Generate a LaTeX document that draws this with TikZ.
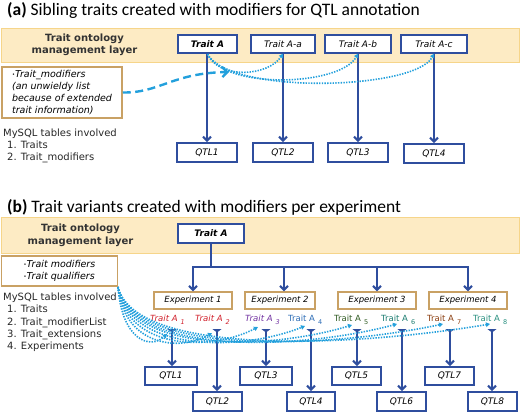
\documentclass[tikz,border=0pt]{standalone}
\usepackage{fontspec}
\setmainfont{DejaVu Sans}
\newfontfamily\titlefont{Carlito}
\usetikzlibrary{arrows.meta}
\definecolor{dblue}{HTML}{2F4E9E}
\definecolor{lblue}{HTML}{23A0DC}
\definecolor{bandfill}{HTML}{FDEBC4}
\definecolor{bandline}{HTML}{F6D58A}
\definecolor{tanline}{HTML}{C9A164}
\definecolor{cA}{HTML}{D01F2A}
\definecolor{cB}{HTML}{7030A0}
\definecolor{cC}{HTML}{2E6DB6}
\definecolor{cD}{HTML}{2F5A22}
\definecolor{cE}{HTML}{1B7C70}
\definecolor{cF}{HTML}{8B3F12}
\definecolor{cG}{HTML}{2A9080}
\newcommand{\fsz}[2]{\fontsize{#1}{#2}\selectfont}
\newcommand{\tsub}[1]{\hspace{3pt}\raisebox{-2.5pt}{\fsz{6.5}{7}#1}}
\begin{document}
\begin{tikzpicture}[x=1pt,y=-1pt,
  band/.style={draw=bandline, fill=bandfill, line width=1pt, inner sep=0pt},
  layertxt/.style={font=\bfseries\fsz{10}{12.5}, align=center, text=black!80},
  tbox/.style={draw=dblue, line width=1.5pt, fill=white, inner sep=0pt, minimum height=18pt, font=\itshape\fsz{9}{11}},
  tmain/.style={tbox, line width=2.2pt, font=\bfseries\itshape\fsz{9}{11}},
  qbox/.style={draw=dblue, line width=2pt, fill=white, inner sep=0pt, minimum height=19pt, font=\itshape\fsz{9}{11}},
  ebox/.style={draw=tanline, line width=1.5pt, fill=white, inner sep=0pt, minimum height=17pt, font=\itshape\fsz{8.5}{10}},
  modbox/.style={draw=tanline, line width=1.5pt, fill=white, inner sep=0pt, align=left, font=\itshape\fsz{9.5}{11.7}},
  plain/.style={inner sep=0pt, align=left, anchor=north west, font=\fsz{10}{12.2}, text=black!85},
  varrow/.style={draw=dblue, line width=2pt, -{Straight Barb[length=4pt,width=8pt]}},
  varrowb/.style={draw=dblue, line width=2pt, {Triangle[reversed,length=3.5pt,width=9pt]}-{Straight Barb[length=4pt,width=8pt]}},
  treeline/.style={draw=dblue, line width=2pt},
  dotarrow/.style={draw=lblue, line width=1.6pt, dash pattern=on 1.4pt off 1.3pt, -{Triangle[length=4pt,width=4.5pt]}},
  dasharrow/.style={draw=lblue, line width=2.4pt, dash pattern=on 8pt off 4.5pt, -{Straight Barb[length=5pt,width=10pt]}},
  tlab/.style={inner sep=0pt, anchor=west, font=\fsz{8.5}{10}}
]
\useasboundingbox (0,0) rectangle (520,413);

% ---------------- (a) ----------------
\node[anchor=west, inner sep=0pt, font=\titlefont\fsz{17.5}{20}] (ta) at (7,11) {\textbf{(a)} Sibling traits created with modifiers for QTL annotation};
\node[band, minimum width=518pt, minimum height=34pt] (banda) at (260,45) {};
\node[layertxt] (la) at (84.5,45) {Trait ontology\\management layer};

\node[tmain, minimum width=59pt] (tA) at (207.5,44) {Trait A};
\node[tbox, minimum width=64pt] (tAa) at (283,44) {Trait A-a};
\node[tbox, minimum width=66pt] (tAb) at (358,44) {Trait A-b};
\node[tbox, minimum width=66pt] (tAc) at (434,44) {Trait A-c};

\node[qbox, minimum width=60pt] (q1) at (207,152.5) {QTL1};
\node[qbox, minimum width=60pt] (q2) at (283,152.5) {QTL2};
\node[qbox, minimum width=60pt] (q3) at (358,152.5) {QTL3};
\node[qbox, minimum width=60pt] (q4) at (434,153.5) {QTL4};

\draw[varrow] (tA.south -| q1) -- (q1);
\draw[varrow] (tAa) -- (q2);
\draw[varrow] (tAb) -- (q3);
\draw[varrow] (tAc) -- (q4);

\node[modbox, minimum width=120pt, minimum height=51pt] (ma) at (62,92.5)
  {\raisebox{1.5pt}{\fsz{5}{5}\textbullet}Trait\_modifiers\\(an unwieldy list\\because of extended\\trait information)};
\node[plain] (sa) at (3,128.5) {MySQL tables involved\\\hspace*{4pt}1. Traits\\\hspace*{4pt}2. Trait\_modifiers};

\coordinate (da) at (229,72);
\draw[dasharrow] (ma.east) .. controls (160,93) and (172,73) .. (da);

\draw[dotarrow] (tA.south) .. controls (220,80) and (268,76) .. (tAa.south);
\draw[dotarrow] (tA.south) .. controls (225,90) and (340,86) .. (tAb.south);
\draw[dotarrow] (tA.south) .. controls (230,95) and (415,90) .. (tAc.south);

% ---------------- (b) ----------------
\node[anchor=west, inner sep=0pt, font=\titlefont\fsz{17.5}{20}] (tb) at (7,207) {\textbf{(b)} Trait variants created with modifiers per experiment};
\node[band, minimum width=518pt, minimum height=36pt] (bandb) at (260,235) {};
\node[layertxt] (lb) at (80.5,235.5) {Trait ontology\\management layer};

\node[tmain, minimum width=66pt, minimum height=19pt] (tB) at (211,233.5) {Trait A};

\coordinate (j) at (211,267);
\coordinate (j1) at (193,267);
\coordinate (j2) at (284,267);
\coordinate (j3) at (377,267);
\coordinate (j4) at (468,267);
\draw[treeline] (tB) -- (j);
\draw[treeline, line cap=rect] (j1) -- (j4);

\node[ebox, minimum width=78pt] (e1) at (193,300.5) {Experiment 1};
\node[ebox, minimum width=70pt] (e2) at (280,300.5) {Experiment 2};
\node[ebox, minimum width=78pt] (e3) at (377,300.5) {Experiment 3};
\node[ebox, minimum width=78pt] (e4) at (468,300.5) {Experiment 4};

\draw[varrow] (j1) -- (e1);
\draw[varrow] (j2) -- (j2 |- e2.north);
\draw[varrow] (j3) -- (e3);
\draw[varrow] (j4) -- (e4);

\node[modbox, minimum width=116pt, minimum height=30pt, font=\itshape\fsz{9.5}{12}] (mb) at (59.5,271)
  {\raisebox{1.5pt}{\fsz{5}{5}\textbullet}Trait modifiers\\\raisebox{1.5pt}{\fsz{5}{5}\textbullet}Trait qualifiers};
\node[plain] (sb) at (3,292.8) {MySQL tables involved\\\hspace*{4pt}1. Traits\\\hspace*{4pt}2. Trait\_modifierList\\\hspace*{4pt}3. Trait\_extensions\\\hspace*{4pt}4. Experiments};

\node[tlab, text=cA, font=\itshape\fsz{8.5}{10}] (l1) at (150,320) {Trait A\tsub{1}};
\node[tlab, text=cA, font=\itshape\fsz{8.5}{10}] (l2) at (195,320) {Trait A\tsub{2}};
\node[tlab, text=cB, font=\itshape\fsz{8.5}{10}] (l3) at (245,320) {Trait A\tsub{3}};
\node[tlab, text=cC] (l4) at (288,320) {Trait A\tsub{4}};
\node[tlab, text=cD] (l5) at (334,320) {Trait A\tsub{5}};
\node[tlab, text=cE] (l6) at (381,320) {Trait A\tsub{6}};
\node[tlab, text=cF] (l7) at (427,320) {Trait A\tsub{7}};
\node[tlab, text=cG] (l8) at (473,320) {Trait A\tsub{8}};

\node[qbox, minimum width=52pt, minimum height=18pt] (r1) at (171,376) {QTL1};
\node[qbox, minimum width=49pt] (r2) at (217.5,401.5) {QTL2};
\node[qbox, minimum width=52pt, minimum height=18pt] (r3) at (266,376) {QTL3};
\node[qbox, minimum width=48pt] (r4) at (311,401.5) {QTL4};
\node[qbox, minimum width=49pt, minimum height=18pt] (r5) at (356.5,376) {QTL5};
\node[qbox, minimum width=49pt] (r6) at (401.5,401.5) {QTL6};
\node[qbox, minimum width=49pt, minimum height=18pt] (r7) at (449.5,376) {QTL7};
\node[qbox, minimum width=49pt] (r8) at (492.5,401.5) {QTL8};

\coordinate (v1) at (172,329);
\coordinate (v2) at (217,329);
\coordinate (v3) at (266,329);
\coordinate (v4) at (311,329);
\coordinate (v5) at (357,329);
\coordinate (v6) at (402,329);
\coordinate (v7) at (450,329);
\coordinate (v8) at (492,329);
\foreach \i in {1,...,8} {
  \draw[varrowb] (v\i) -- (v\i |- r\i.north);
}

\coordinate (fs) at (118,287);
\coordinate (f1) at (167,334);
\coordinate (f2) at (212,333);
\coordinate (f3) at (258,327);
\coordinate (f4) at (305,326);
\coordinate (f5) at (352,325);
\coordinate (f6) at (397,324);
\coordinate (f7) at (443,324);
\coordinate (f8) at (490,324);
\draw[dotarrow] (fs) .. controls (122,340) and (150,350) .. (f1);
\draw[dotarrow] (fs) .. controls (124,346) and (180,352) .. (f2);
\draw[dotarrow] (fs) .. controls (126,350) and (210,352) .. (f3);
\draw[dotarrow] (fs) .. controls (128,352) and (240,352) .. (f4);
\draw[dotarrow] (fs) .. controls (130,354) and (270,350) .. (f5);
\draw[dotarrow] (fs) .. controls (132,356) and (300,350) .. (f6);
\draw[dotarrow] (fs) .. controls (134,357) and (330,348) .. (f7);
\draw[dotarrow] (fs) .. controls (136,358) and (360,346) .. (f8);
\end{tikzpicture}
\end{document}
